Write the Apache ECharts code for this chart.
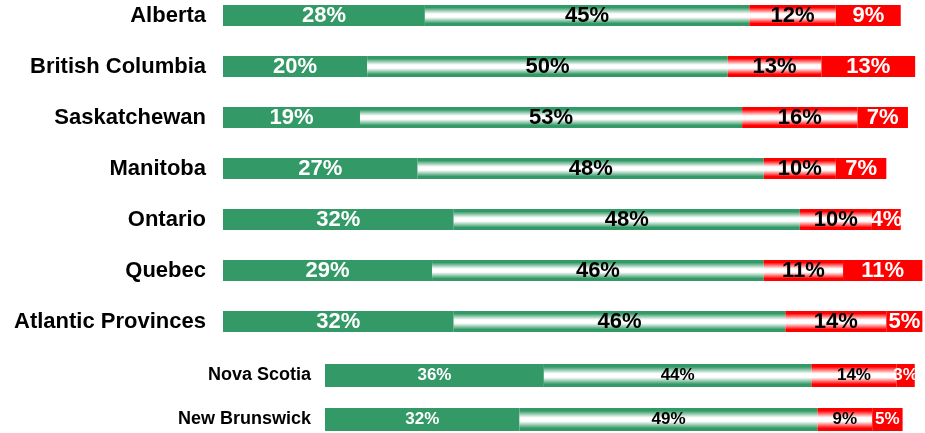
<!DOCTYPE html>
<html>
<head>
<meta charset="utf-8">
<style>
  html, body { margin: 0; padding: 0; background: #ffffff; }
  #chart { width: 925px; height: 433px; }
</style>
<script src="https://cdn.jsdelivr.net/npm/echarts@6/dist/echarts.min.js"></script>
</head>
<body>
<div id="chart"></div>
<script>
// Provinces (upper block)
const provinces = ['Alberta', 'British Columbia', 'Saskatchewan', 'Manitoba', 'Ontario', 'Quebec', 'Atlantic Provinces'];
const provStrongYes = [28, 20, 19, 27, 32, 29, 32];
const provSomewhatYes = [45, 50, 53, 48, 48, 46, 46];
const provSomewhatNo = [12, 13, 16, 10, 10, 11, 14];
const provStrongNo = [9, 13, 7, 7, 4, 11, 5];

// Atlantic breakdown (lower block)
const atlantic = ['Nova Scotia', 'New Brunswick'];
const atlStrongYes = [36, 32];
const atlSomewhatYes = [44, 49];
const atlSomewhatNo = [14, 9];
const atlStrongNo = [3, 5];

const FONT = "'Liberation Sans', Arial, Helvetica, sans-serif";
const GREEN = '#339966';
const RED = '#ff0000';

// Vertical band: coloured edges fading to a white centre line
function banded(edge) {
  return {
    type: 'linear', x: 0, y: 0, x2: 0, y2: 1,
    colorStops: [
      { offset: 0, color: edge },
      { offset: 0.12, color: edge },
      { offset: 0.42, color: '#ffffff' },
      { offset: 0.58, color: '#ffffff' },
      { offset: 0.88, color: edge },
      { offset: 1, color: edge }
    ]
  };
}

function seg(name, data, idx, color, textColor, fontSize, barWidth) {
  return {
    name: name,
    type: 'bar',
    stack: 'g' + idx,
    xAxisIndex: idx,
    yAxisIndex: idx,
    barWidth: barWidth,
    data: data,
    itemStyle: { color: color },
    label: {
      show: true,
      position: 'inside',
      formatter: '{c}%',
      color: textColor,
      fontFamily: FONT,
      fontWeight: 'bold',
      fontSize: fontSize
    }
  };
}

const chart = echarts.init(document.getElementById('chart'), null, { renderer: 'canvas' });

const hiddenX = {
  type: 'value', min: 0, max: 100,
  axisLine: { show: false }, axisTick: { show: false },
  axisLabel: { show: false }, splitLine: { show: false }
};

chart.setOption({
  animation: false,
  backgroundColor: '#ffffff',
  grid: [
    { left: 223, width: 721, top: -10, height: 357, outerBoundsMode: 'none', containLabel: false },
    { left: 325, width: 608, top: 353.5, height: 88, outerBoundsMode: 'none', containLabel: false }
  ],
  xAxis: [
    Object.assign({ gridIndex: 0 }, hiddenX),
    Object.assign({ gridIndex: 1 }, hiddenX)
  ],
  yAxis: [
    {
      type: 'category', gridIndex: 0, data: provinces, inverse: true,
      axisLine: { show: false }, axisTick: { show: false },
      axisLabel: { color: '#000', fontFamily: FONT, fontWeight: 'bold', fontSize: 22, margin: 17 }
    },
    {
      type: 'category', gridIndex: 1, data: atlantic, inverse: true,
      axisLine: { show: false }, axisTick: { show: false },
      axisLabel: { color: '#000', fontFamily: FONT, fontWeight: 'bold', fontSize: 18, margin: 14 }
    }
  ],
  series: [
    seg('Strongly', provStrongYes, 0, GREEN, '#ffffff', 22, 21),
    seg('Somewhat', provSomewhatYes, 0, banded(GREEN), '#000000', 22, 21),
    seg('Somewhat not', provSomewhatNo, 0, banded(RED), '#000000', 22, 21),
    seg('Not at all', provStrongNo, 0, RED, '#ffffff', 22, 21),
    seg('Strongly', atlStrongYes, 1, GREEN, '#ffffff', 17, 23),
    seg('Somewhat', atlSomewhatYes, 1, banded(GREEN), '#000000', 17, 23),
    seg('Somewhat not', atlSomewhatNo, 1, banded(RED), '#000000', 17, 23),
    seg('Not at all', atlStrongNo, 1, RED, '#ffffff', 17, 23)
  ]
});
</script>
</body>
</html>
